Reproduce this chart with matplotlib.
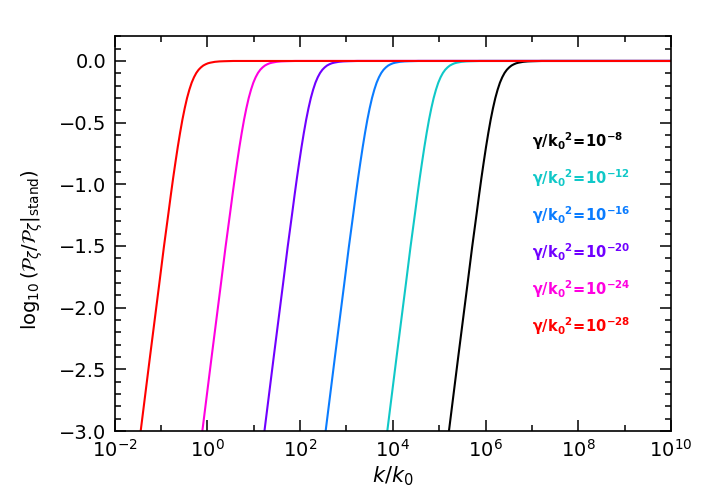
import numpy as np
import matplotlib
matplotlib.use("Agg")
import matplotlib.pyplot as plt
from matplotlib.ticker import LogLocator, NullFormatter, MultipleLocator

plt.rcParams["mathtext.fontset"] = "dejavusans"

# Data: one curve profile (offset in log10 k from the
# point where the curve meets the bottom axis, and log10 of the ratio)
profile_dlogk = [-0.1, 0.0, 0.2, 0.4, 0.5, 0.6, 0.65, 0.7, 0.75, 0.8, 0.85,
                 0.9, 0.95, 1.0, 1.05, 1.1, 1.15, 1.2, 1.25, 1.3, 1.35, 1.4,
                 1.45, 1.5, 1.6, 1.7, 1.8, 2.0, 2.3]
profile_value = [-3.30, -3.00, -2.40, -1.81, -1.51, -1.23, -1.087, -0.95,
                 -0.821, -0.697, -0.582, -0.476, -0.383, -0.301, -0.233,
                 -0.176, -0.132, -0.097, -0.071, -0.052, -0.037, -0.027,
                 -0.019, -0.014, -0.007, -0.0035, -0.002, 0.0, 0.0]

# where each curve crosses log10(P/P_stand) = -3 (log10 k/k0)
gamma_exponents = [-8, -12, -16, -20, -24, -28]
start_logk = [5.21, 3.88, 2.55, 1.23, -0.11, -1.44]
colors = ["#000000", "#10C8C8", "#0A7CFF", "#7000FF", "#FF00E0", "#FF0000"]

fig = plt.figure(figsize=(7.06, 5.04), dpi=100)
ax = fig.add_axes([0.1625, 0.1448, 0.7879, 0.7844])

for s, c in zip(start_logk, colors):
    logk = [s + d for d in profile_dlogk] + [10.5]
    vals = profile_value + [0.0]
    ax.plot(10.0 ** np.array(logk), vals, color=c, lw=1.5)

ax.set_xscale("log")
ax.set_xlim(1e-2, 1e10)
ax.set_ylim(-3.0, 0.205)

ax.xaxis.set_major_locator(LogLocator(base=100, numticks=20))
ax.xaxis.set_minor_locator(LogLocator(base=10, subs=[1.0], numticks=30))
ax.xaxis.set_minor_formatter(NullFormatter())
ax.yaxis.set_major_locator(MultipleLocator(0.5))
ax.yaxis.set_minor_locator(MultipleLocator(0.1))
ax.yaxis.set_major_formatter(plt.FuncFormatter(lambda v, p: f"{v:.1f}".replace("-", "\u2212")))

ax.tick_params(which="both", direction="in", top=True, right=True,
               labelsize=14, width=1.1)
ax.tick_params(which="major", length=8, pad=6)
ax.tick_params(which="minor", length=4)
for sp in ax.spines.values():
    sp.set_linewidth(1.2)

ax.set_xlabel(r"$k/k_0$", fontsize=15, labelpad=2)
ax.set_ylabel(r"$\log_{10}(\mathcal{P}_\zeta/\mathcal{P}_\zeta|_{\rm stand})$",
              fontsize=14)
ax.yaxis.set_label_coords(-0.125, 0.46)

for i, (g, c) in enumerate(zip(gamma_exponents, colors)):
    ax.text(0.75, 0.7336 - i * 0.0936,
            r"$\mathbf{\gamma/k_0{}^2\!=\!10^{%d}}$" % g,
            transform=ax.transAxes, color=c, fontsize=10.5, va="center", ha="left")

fig.savefig("out.png", dpi=100)
